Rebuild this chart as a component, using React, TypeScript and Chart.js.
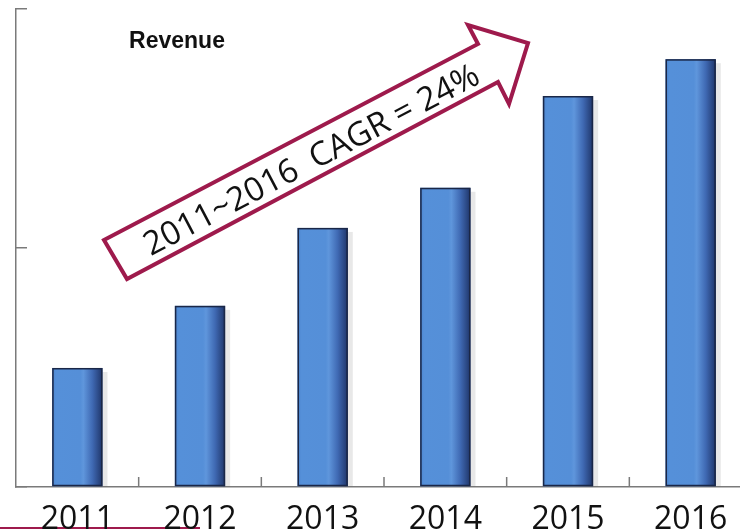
import React, { useEffect, useRef } from "react";
import { Chart, registerables } from "chart.js";

Chart.register(...registerables);

// ---- data ----
const categories = ["2011", "2012", "2013", "2014", "2015", "2016"];
const revenue = [24.9, 37.9, 54.2, 62.6, 81.8, 89.5];
const yMin = 0;
const yMax = 100;
const yStep = 50;
const titleText = "Revenue";
const arrowText = "2011~2016  CAGR = 24%";

// ---- styling ----
const ACCENT = "#9e1a4c";
const AXIS = "#7a7a7a";

const barStyle = {
  id: "barStyle",
  beforeDatasetsDraw(chart: any) {
    const ctx = chart.ctx;
    const meta = chart.getDatasetMeta(0);
    ctx.save();
    meta.data.forEach((el: any) => {
      const { x, y, base, width } = el.getProps(["x", "y", "base", "width"], true);
      const r = x + width / 2;
      ctx.fillStyle = "rgba(0,0,0,0.09)";
      ctx.fillRect(r, y + 4, 5, base - y - 4);
    });
    ctx.restore();
  },
  afterDatasetsDraw(chart: any) {
    const ctx = chart.ctx;
    const meta = chart.getDatasetMeta(0);
    ctx.save();
    meta.data.forEach((el: any) => {
      const { x, y, base, width } = el.getProps(["x", "y", "base", "width"], true);
      const l = x - width / 2;
      const g = ctx.createLinearGradient(l, 0, l + width, 0);
      g.addColorStop(0, "#4d85cf");
      g.addColorStop(0.08, "#5590d9");
      g.addColorStop(0.56, "#558fd8");
      g.addColorStop(0.62, "#5f96dc");
      g.addColorStop(0.8, "#3f69b3");
      g.addColorStop(1, "#1f3569");
      ctx.fillStyle = g;
      ctx.fillRect(l, y, width, base - y);
      ctx.strokeStyle = "#1a2747";
      ctx.lineWidth = 1.5;
      ctx.strokeRect(l + 0.75, y + 0.75, width - 1.5, base - y - 1.5);
    });
    ctx.restore();
  },
};

// inward tick marks between categories on the x axis
const xInwardTicks = {
  id: "xInwardTicks",
  beforeDatasetsDraw(chart: any) {
    const ctx = chart.ctx;
    const xs = chart.scales.x;
    const bottom = chart.chartArea.bottom;
    ctx.save();
    ctx.strokeStyle = AXIS;
    ctx.lineWidth = 1.5;
    for (let i = 0; i < categories.length - 1; i++) {
      const px = (xs.getPixelForValue(i) + xs.getPixelForValue(i + 1)) / 2;
      ctx.beginPath();
      ctx.moveTo(px, bottom);
      ctx.lineTo(px, bottom - 10);
      ctx.stroke();
    }
    ctx.restore();
  },
};

const annotations = {
  id: "annotations",
  beforeDraw(chart: any) {
    // slide decoration line (sits behind the axis labels)
    const ctx = chart.ctx;
    ctx.save();
    ctx.strokeStyle = ACCENT;
    ctx.lineWidth = 2;
    ctx.beginPath();
    ctx.moveTo(0, 528);
    ctx.lineTo(200, 528);
    ctx.stroke();
    ctx.restore();
  },
  afterDraw(chart: any) {
    const ctx = chart.ctx;
    ctx.save();
    // title
    ctx.fillStyle = "#111";
    ctx.font = 'bold 23px "Liberation Sans", Arial, sans-serif';
    ctx.textAlign = "center";
    ctx.textBaseline = "alphabetic";
    ctx.fillText(titleText, 177, 48);

    // arrow callout
    const pts = [
      [104, 240],
      [478, 44],
      [468, 25],
      [528, 43],
      [509, 104],
      [498, 82],
      [127, 279],
    ];
    ctx.beginPath();
    pts.forEach((p, i) => (i ? ctx.lineTo(p[0], p[1]) : ctx.moveTo(p[0], p[1])));
    ctx.closePath();
    ctx.fillStyle = "#ffffff";
    ctx.fill();
    ctx.strokeStyle = ACCENT;
    ctx.lineWidth = 4;
    ctx.lineJoin = "miter";
    ctx.stroke();

    ctx.translate(312, 161);
    ctx.rotate((-27.7 * Math.PI) / 180);
    ctx.fillStyle = "#111";
    ctx.font = '33px "Open Sans", sans-serif';
    ctx.textAlign = "center";
    ctx.textBaseline = "middle";
    ctx.fillText(arrowText, 0, 0);
    ctx.restore();
  },
};

export default function App() {
  const ref = useRef<HTMLCanvasElement>(null);

  useEffect(() => {
    if (!ref.current) return;
    const chart = new Chart(ref.current, {
      type: "bar",
      data: {
        labels: categories,
        datasets: [
          {
            label: titleText,
            data: revenue,
            backgroundColor: "rgba(0,0,0,0)",
            borderWidth: 0,
            barPercentage: 0.41,
            categoryPercentage: 1,
          },
        ],
      },
      options: {
        responsive: false,
        animation: false,
        devicePixelRatio: 1,
        layout: { padding: { top: 9, left: 0, right: 0, bottom: 0 } },
        plugins: {
          legend: { display: false },
          title: { display: false },
          tooltip: { enabled: false },
        },
        scales: {
          x: {
            grid: { display: false },
            border: { display: true, color: AXIS, width: 1.5 },
            ticks: {
              color: "#111",
              font: { family: '"Open Sans", sans-serif', size: 32, weight: "500" },
              padding: 6,
            },
            afterFit: (s: any) => {
              s.height = 44;
            },
          },
          y: {
            min: yMin,
            max: yMax,
            ticks: { display: false, stepSize: yStep },
            grid: {
              display: true,
              drawOnChartArea: false,
              drawTicks: true,
              tickLength: -11,
              color: AXIS,
              lineWidth: 1.5,
            },
            border: { display: true, color: AXIS, width: 1.5 },
            afterFit: (s: any) => {
              s.width = 16;
            },
          },
        },
      },
      plugins: [barStyle, xInwardTicks, annotations],
    });
    return () => chart.destroy();
  }, []);

  return (
    <div
      style={{
        position: "absolute",
        left: 0,
        top: 0,
        width: 740,
        height: 531,
        overflow: "hidden",
        background: "#fff",
      }}
    >
      <canvas ref={ref} width={752} height={531} style={{ display: "block" }} />
    </div>
  );
}
